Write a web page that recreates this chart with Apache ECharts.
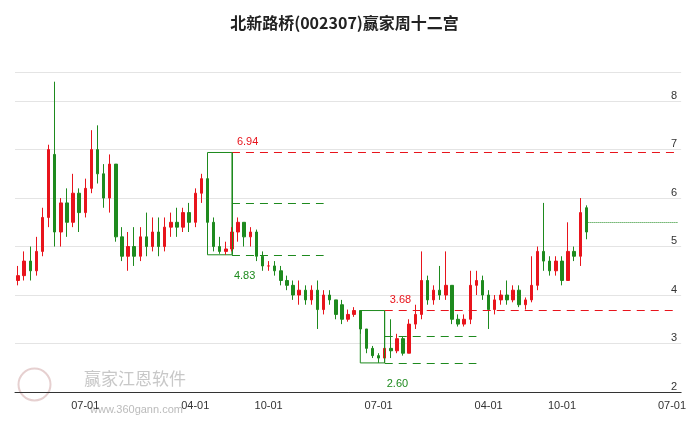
<!DOCTYPE html>
<html>
<head>
<meta charset="utf-8">
<script src="https://cdn.jsdelivr.net/npm/echarts@6/dist/echarts.min.js"></script>
<style>html,body{margin:0;padding:0;background:#fff}#main{width:689px;height:427px}</style>
</head>
<body>
<div id="main"></div>
<script>
// 半月K线 [开, 收, 低, 高]，从 2021-01-16 开始
var candles = [
  [4.3,4.4,4.2,4.6],[4.4,4.7,4.3,4.9],[4.7,4.5,4.3,5.0],[4.5,4.9,4.4,5.2],[4.9,5.6,4.8,5.8],
  [5.6,7.0,5.4,7.1],[6.9,5.3,5.0,8.4],[5.3,5.9,5.0,6.0],[5.9,5.5,5.2,6.2],[5.5,6.1,5.4,6.5],
  [6.1,5.7,5.3,6.2],[5.7,6.2,5.6,6.4],[6.2,7.0,6.1,7.4],[7.0,6.5,6.3,7.5],[6.5,6.0,5.8,6.7],
  [6.0,6.7,5.7,6.9],[6.7,5.2,5.1,6.6],[5.2,4.8,4.7,5.4],[4.8,5.0,4.5,5.3],[5.0,4.8,4.6,5.4],
  [4.8,5.2,4.7,5.4],[5.2,5.0,4.8,5.7],[5.0,5.3,4.9,5.6],
  [5.3,5.0,4.8,5.6],[5.0,5.4,4.9,5.6],[5.4,5.5,5.2,5.7],[5.5,5.4,5.2,5.8],[5.4,5.7,5.3,5.8],
  [5.7,5.5,5.3,5.9],[5.5,6.1,5.4,6.2],[6.1,6.4,5.9,6.5],[6.4,5.5,5.3,6.5],[5.5,5.0,4.9,5.6],
  [5.0,4.9,4.85,5.2],[4.9,4.95,4.83,5.1],[4.95,5.3,4.9,5.4],[5.3,5.5,5.1,5.6],[5.5,5.2,5.0,5.5],
  [5.2,5.3,5.0,5.4],[5.3,4.8,4.7,5.35],[4.8,4.6,4.5,4.9],[4.6,4.6,4.5,4.7],[4.6,4.5,4.4,4.7],
  [4.5,4.3,4.2,4.6],[4.3,4.2,4.1,4.4],[4.2,4.0,3.9,4.3],[4.0,4.1,3.8,4.3],
  [4.1,3.9,3.8,4.2],[3.9,4.1,3.8,4.2],[4.1,3.7,3.3,4.3],[3.7,4.0,3.6,4.1],[4.0,3.9,3.8,4.1],
  [3.9,3.6,3.5,3.9],[3.8,3.5,3.4,3.9],[3.5,3.6,3.45,3.7],[3.6,3.68,3.55,3.75],[3.68,3.3,3.2,3.68],
  [3.3,2.9,2.8,3.3],[2.9,2.75,2.7,2.95],[2.75,2.7,2.6,2.8],[2.7,2.9,2.6,3.0],[2.9,2.85,2.7,3.5],
  [2.85,3.1,2.8,3.2],[3.1,2.8,2.75,3.15],[2.8,3.4,2.8,3.5],[3.4,3.6,3.3,3.8],[3.6,4.3,3.5,4.9],
  [4.3,3.9,3.8,4.4],[3.9,4.1,3.8,4.2],[4.1,4.0,3.9,4.6],[4.0,4.2,3.9,4.9],
  [4.2,3.5,3.4,4.2],[3.5,3.4,3.35,3.6],[3.4,3.5,3.35,3.6],[3.5,4.2,3.4,4.5],[4.2,4.3,4.0,4.5],
  [4.3,4.0,3.9,4.4],[4.0,3.7,3.3,4.1],[3.7,3.9,3.6,4.0],[3.9,4.0,3.8,4.1],[4.0,3.9,3.8,4.3],
  [3.9,4.1,3.85,4.2],[4.1,3.8,3.75,4.2],[3.8,3.9,3.7,3.95],[3.9,4.2,3.85,4.8],[4.2,4.9,4.1,5.0],
  [4.9,4.7,4.5,5.9],[4.7,4.5,4.4,4.8],[4.5,4.7,4.4,4.8],[4.7,4.3,4.2,4.8],[4.3,4.9,4.3,5.5],
  [4.9,4.8,4.7,5.0],[4.8,5.7,4.6,6.0],[5.8,5.3,5.15,5.85]
];
var tickDates = ['2021-07-01','2022-04-01','2022-10-01','2023-07-01','2024-04-01','2024-10-01','2025-07-01'];
var yTicks = [2, 3, 4, 5, 6, 7, 8];
// 十二宫标注: [起点, 箱体右侧, 虚线终点, 高, 中, 低]
var box1 = ['2022-05-01', '2022-07-01', '2023-02-16', 6.94, 5.885, 4.83];
var box2 = ['2023-05-16', '2023-07-16', '2024-03-01', 3.68, 3.14, 2.60];
var lastPrice = 5.5;

// 半月日期轴
var dates = [];
for (var y = 2021; y <= 2025; y++) {
  for (var m = 1; m <= 12; m++) {
    var mm = (m < 10 ? '0' : '') + m;
    ['01', '16'].forEach(function (d) {
      var s = y + '-' + mm + '-' + d;
      if (s >= '2021-01-16' && s <= '2025-07-16') dates.push(s);
    });
  }
}
var lastDate = dates[candles.length - 1];
var endDate = dates[dates.length - 1];

var RED = '#e8141c', GREEN = '#1e8a1e';

function boxLines(b) {
  var dash = { color: GREEN, type: [8, 6], width: 1.2 };
  return [
    [{ coord: [b[1], b[3]], lineStyle: { color: RED, type: [8, 6], width: 1.2 },
       label: { show: true, position: 'insideStartTop', formatter: b[3].toFixed(2), color: RED, fontSize: 11 } },
     { coord: [endDate, b[3]] }],
    [{ coord: [b[1], b[4]], lineStyle: dash, label: { show: false } }, { coord: [b[2], b[4]] }],
    [{ coord: [b[1], b[5]], lineStyle: dash,
       label: { show: true, position: 'insideStartBottom', formatter: b[5].toFixed(2), color: GREEN, fontSize: 11, distance: 2, padding: [14, 0, 0, 0] } },
     { coord: [b[2], b[5]] }]
  ];
}

var myChart = echarts.init(document.getElementById('main'));
var option = {
  animation: false,
  title: {
    text: '北新路桥(002307)赢家周十二宫', left: 'center', top: 10,
    textStyle: { fontSize: 16, fontWeight: 'bold', color: '#222', fontFamily: 'Noto Sans CJK SC' }
  },
  graphic: [
    { type: 'circle', left: 16, top: 366, shape: { r: 16 }, style: { fill: 'none', stroke: '#e6d0d0', lineWidth: 2 } },
    { type: 'text', left: 84, top: 370, style: { text: '赢家江恩软件', fill: '#c8c8c8', font: '17px "Noto Sans CJK SC"' } },
    { type: 'text', left: 90, top: 404, style: { text: 'www.360gann.com', fill: '#bbb', font: '11px Arial' } }
  ],
  grid: { left: 15, right: 2, top: 72, bottom: 35 },
  xAxis: {
    type: 'category', data: dates, boundaryGap: true,
    axisLine: { lineStyle: { color: '#333' } },
    axisTick: { alignWithLabel: true, interval: function (i, v) { return tickDates.indexOf(v) >= 0; }, lineStyle: { color: '#333' } },
    axisLabel: { interval: function (i, v) { return tickDates.indexOf(v) >= 0; }, formatter: function (v) { return v.slice(5); },
      color: '#333', fontSize: 11, margin: 8 },
    splitLine: { show: false }
  },
  yAxis: {
    type: 'value', position: 'right', min: 2, max: 8.6, interval: 1,
    axisLine: { show: false }, axisTick: { show: false },
    axisLabel: { inside: true, margin: 4, verticalAlign: 'bottom', color: '#333', fontSize: 11,
      formatter: function (v) { return yTicks.indexOf(v) >= 0 ? v : ''; } },
    splitLine: { lineStyle: { color: '#e4e4e4' } }
  },
  series: [{
    type: 'candlestick', data: candles, barWidth: 3, clip: false,
    itemStyle: { color: RED, color0: GREEN, borderColor: RED, borderColor0: GREEN, borderWidth: 1 },
    markArea: {
      silent: true,
      itemStyle: { color: 'rgba(0,0,0,0)', borderColor: GREEN, borderWidth: 1 },
      data: [
        [{ coord: [box1[0], box1[3]] }, { coord: [box1[1], box1[5]] }],
        [{ coord: [box2[0], box2[3]] }, { coord: [box2[1], box2[5]] }]
      ]
    },
    markLine: {
      silent: true, symbol: 'none',
      data: boxLines(box1).concat(boxLines(box2)).concat([
        [{ coord: [lastDate, lastPrice], lineStyle: { color: GREEN, type: 'dotted', width: 1 }, label: { show: false } },
         { coord: [endDate, lastPrice] }],
        [{ coord: [box1[1], box1[3]], lineStyle: { color: GREEN, type: 'solid', width: 1 }, label: { show: false } },
         { coord: [box1[1], box1[5]] }],
        [{ coord: [box2[1], box2[3]], lineStyle: { color: GREEN, type: 'solid', width: 1 }, label: { show: false } },
         { coord: [box2[1], box2[5]] }]
      ])
    }
  }]
};
myChart.setOption(option);
</script>
</body>
</html>
